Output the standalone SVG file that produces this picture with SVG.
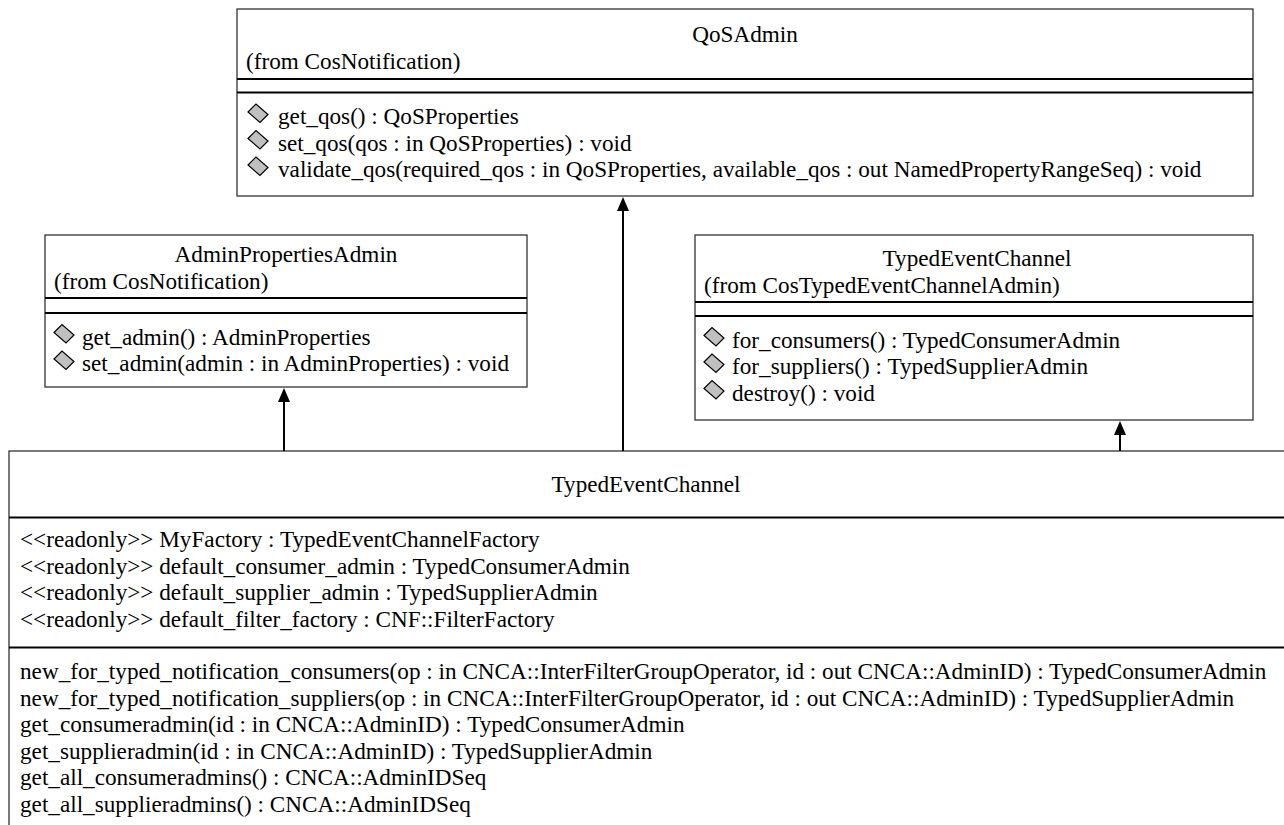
<svg xmlns="http://www.w3.org/2000/svg" xmlns:xlink="http://www.w3.org/1999/xlink" width="1284" height="825" viewBox="0 0 1284 825">
<style>
.box{fill:#fff;stroke:#333;stroke-width:1.3}
.sep{stroke:#000;stroke-width:2}
text{font-family:"Liberation Serif","Times New Roman",serif;font-size:23.2px;fill:#000}
.c{text-anchor:middle}
.dm{fill:#c0c0c0;stroke:#000;stroke-width:1.2}
.conn{stroke:#000;stroke-width:2;fill:none}
.ah{fill:#000}
</style>
<defs>
<path id="dia" class="dm" d="M -10 -1 L -2 -9 L 10 1.5 L 2 9.5 Z"/>
</defs>
<rect width="1284" height="825" fill="#fff"/>

<g id="QoSAdmin">
<rect class="box" x="237" y="9" width="1016" height="187"/>
<text class="c" x="745" y="42">QoSAdmin</text>
<text x="246" y="68.5">(from CosNotification)</text>
<line class="sep" x1="237" y1="79" x2="1253" y2="79"/>
<line class="sep" x1="237" y1="92.5" x2="1253" y2="92.5"/>
<use xlink:href="#dia" x="258" y="113"/>
<text x="278" y="124">get_qos() : QoSProperties</text>
<use xlink:href="#dia" x="258" y="139.5"/>
<text x="278" y="150.5">set_qos(qos : in QoSProperties) : void</text>
<use xlink:href="#dia" x="258" y="166"/>
<text x="278" y="177">validate_qos(required_qos : in QoSProperties, available_qos : out NamedPropertyRangeSeq) : void</text>
</g>

<g id="AdminPropertiesAdmin">
<rect class="box" x="45" y="235" width="482" height="152"/>
<text class="c" x="286" y="262">AdminPropertiesAdmin</text>
<text x="54" y="289">(from CosNotification)</text>
<line class="sep" x1="45" y1="298" x2="527" y2="298"/>
<line class="sep" x1="45" y1="313" x2="527" y2="313"/>
<use xlink:href="#dia" x="64" y="333.5"/>
<text x="82" y="344.5">get_admin() : AdminProperties</text>
<use xlink:href="#dia" x="64" y="360"/>
<text x="82" y="371">set_admin(admin : in AdminProperties) : void</text>
</g>

<g id="TypedEventChannelBase">
<rect class="box" x="695" y="235" width="558" height="185"/>
<text class="c" x="977" y="266">TypedEventChannel</text>
<text x="704" y="293">(from CosTypedEventChannelAdmin)</text>
<line class="sep" x1="695" y1="302" x2="1253" y2="302"/>
<line class="sep" x1="695" y1="316" x2="1253" y2="316"/>
<use xlink:href="#dia" x="714" y="336.5"/>
<text x="732" y="347.5">for_consumers() : TypedConsumerAdmin</text>
<use xlink:href="#dia" x="714" y="363"/>
<text x="732" y="374">for_suppliers() : TypedSupplierAdmin</text>
<use xlink:href="#dia" x="714" y="389.5"/>
<text x="732" y="400.5">destroy() : void</text>
</g>

<g id="TypedEventChannel">
<rect class="box" x="9" y="451" width="1290" height="400"/>
<text class="c" x="646" y="492">TypedEventChannel</text>
<line class="sep" x1="9" y1="517.5" x2="1290" y2="517.5"/>
<text x="20" y="547">&lt;&lt;readonly&gt;&gt; MyFactory : TypedEventChannelFactory</text>
<text x="20" y="573.5">&lt;&lt;readonly&gt;&gt; default_consumer_admin : TypedConsumerAdmin</text>
<text x="20" y="600">&lt;&lt;readonly&gt;&gt; default_supplier_admin : TypedSupplierAdmin</text>
<text x="20" y="626.5">&lt;&lt;readonly&gt;&gt; default_filter_factory : CNF::FilterFactory</text>
<line class="sep" x1="9" y1="647.5" x2="1290" y2="647.5"/>
<text x="20" y="679">new_for_typed_notification_consumers(op : in CNCA::InterFilterGroupOperator, id : out CNCA::AdminID) : TypedConsumerAdmin</text>
<text x="20" y="705.5">new_for_typed_notification_suppliers(op : in CNCA::InterFilterGroupOperator, id : out CNCA::AdminID) : TypedSupplierAdmin</text>
<text x="20" y="732">get_consumeradmin(id : in CNCA::AdminID) : TypedConsumerAdmin</text>
<text x="20" y="758.5">get_supplieradmin(id : in CNCA::AdminID) : TypedSupplierAdmin</text>
<text x="20" y="785">get_all_consumeradmins() : CNCA::AdminIDSeq</text>
<text x="20" y="811.5">get_all_supplieradmins() : CNCA::AdminIDSeq</text>
</g>

<g id="connectors">
<line class="conn" x1="623" y1="451" x2="623" y2="210"/>
<polygon class="ah" points="623,197 617,211 629,211"/>
<line class="conn" x1="284" y1="451" x2="284" y2="401"/>
<polygon class="ah" points="284,388 278,402 290,402"/>
<line class="conn" x1="1120" y1="451" x2="1120" y2="434"/>
<polygon class="ah" points="1120,421 1114,435 1126,435"/>
</g>
</svg>
